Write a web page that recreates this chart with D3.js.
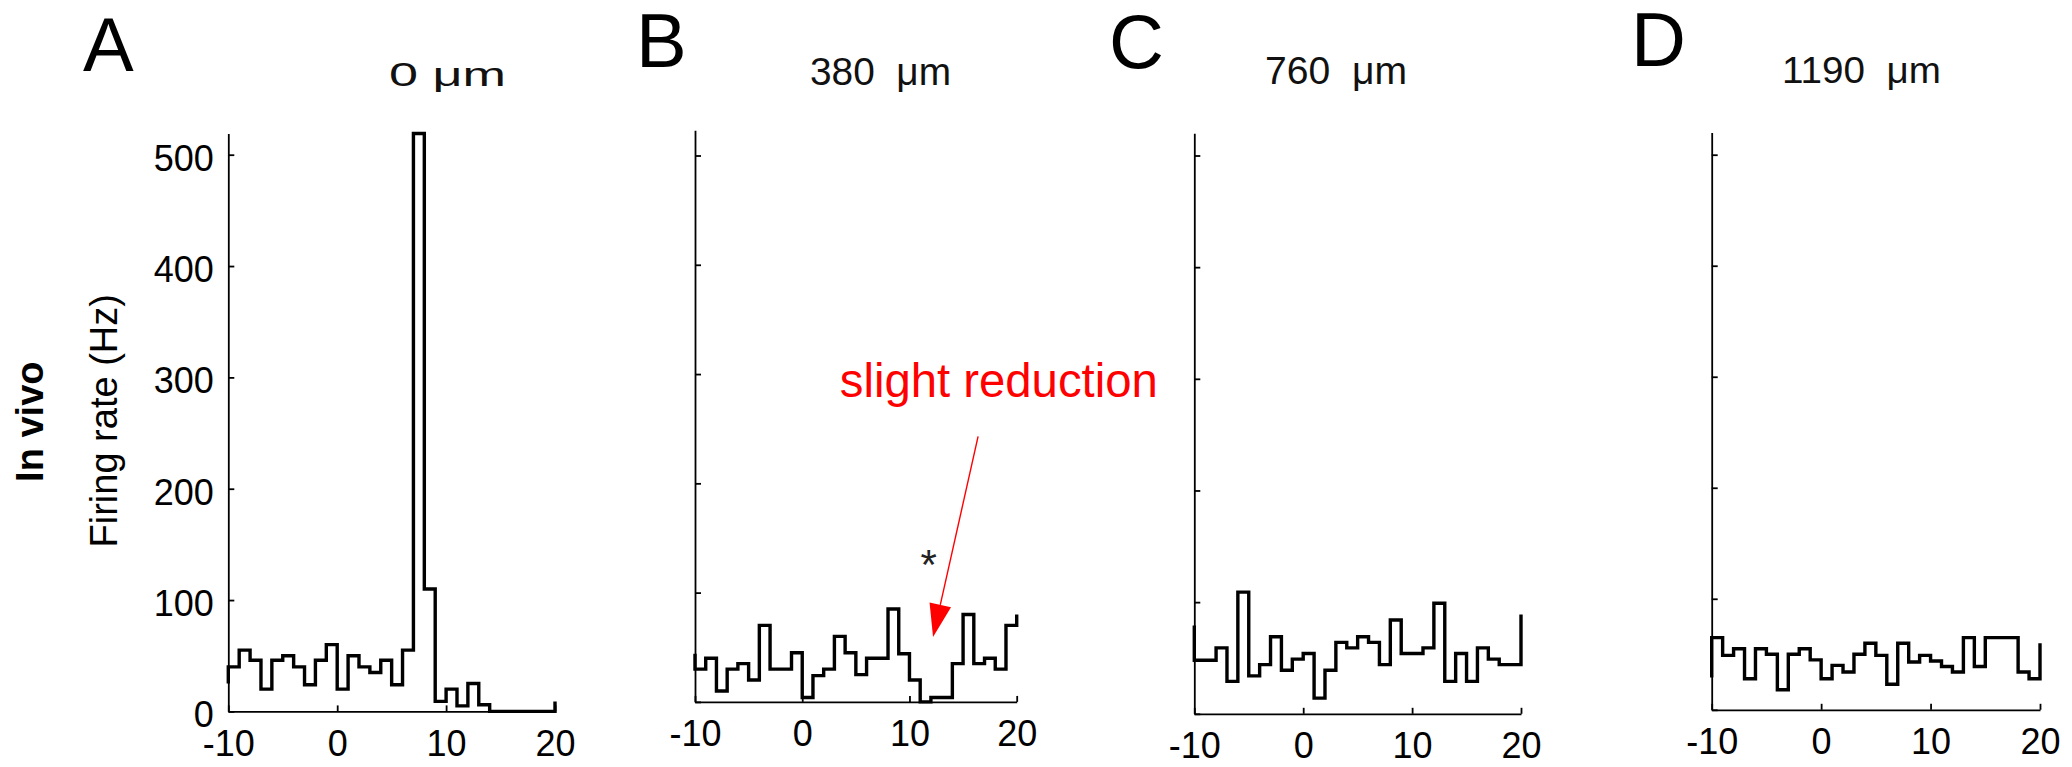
<!DOCTYPE html>
<html>
<head>
<meta charset="utf-8">
<script src="https://cdn.jsdelivr.net/npm/d3@7"></script>
<style>
  html, body { margin: 0; padding: 0; background: #fff; }
  svg { display: block; }
  text { font-family: "Liberation Sans", Arial, Helvetica, sans-serif; white-space: pre; }
</style>
</head>
<body>
<svg id="chart"></svg>
<script>
// --- Data (time in ms, firing rate in Hz) ---
const binStarts = [-10, -9, -8, -7, -6, -5, -4, -3, -2, -1, 0, 1, 2, 3, 4,
                   5, 6, 7, 8, 9, 10, 11, 12, 13, 14, 15, 16, 17, 18, 19];
const xTicks = [-10, 0, 10, 20];
const yTicks = [0, 100, 200, 300, 400, 500];
const panelLetters = ["A", "B", "C", "D"];
const depthLabels = ["0 μm", "380  μm", "760  μm", "1190  μm"];

const rateA = [40, 55, 46, 20, 46, 50, 40, 24, 46, 60, 20, 50, 40, 35, 46,
               24, 55, 519, 110, 9, 20, 5, 25, 6, 0, 0, 0, 0, 0, 0];
const rateB = [30, 40, 10, 30, 35, 20, 70, 30, 30, 45, 4, 24, 30, 60, 45,
               25, 40, 40, 85, 44, 20, 0, 4, 4, 35, 80, 35, 40, 30, 70];
const rateC = [48, 48, 59, 29, 109, 34, 44, 69, 39, 49, 54, 14, 39, 64, 59,
               69, 64, 44, 84, 54, 54, 59, 99, 29, 54, 29, 59, 49, 44, 44];
const rateD = [65, 49, 55, 28, 55, 50, 18, 50, 55, 45, 28, 40, 34, 50, 60,
               49, 23, 60, 43, 49, 44, 39, 34, 65, 39, 65, 65, 65, 34, 28];
// stairs start / end values drawn at the left and right edges
const edgeRates = [[25, 9], [44, 80], [79, 89], [29, 60]];
const rates = [rateA, rateB, rateC, rateD];

const width = 2072;
const height = 767;

const svg = d3.select('#chart')
  .attr('width', width)
  .attr('height', height);

svg.append('rect').attr('width', width).attr('height', height).attr('fill', '#fff');

// --- Panel layout ---
const panels = [
  { left: 228.3, right: 555, bottom: 711.4, top500: 154.7, yMax: 519, showY: true,
    letter: [83, 70.7], title: [389, 86, 117], titleFont: '"DejaVu Sans", Verdana, sans-serif', titleSize: 33 },
  { left: 695, right: 1016.7, bottom: 701.9, top500: 155.5, yMax: 523, showY: false,
    letter: [636, 66.7], title: [810, 85, 141], titleFont: null, titleSize: 38 },
  { left: 1194.3, right: 1521, bottom: 713.8, top500: 155.5, yMax: 520, showY: false,
    letter: [1109, 67.5], title: [1265, 84, 142], titleFont: null, titleSize: 38 },
  { left: 1711.7, right: 2040, bottom: 709.8, top500: 154.7, yMax: 520, showY: false,
    letter: [1631, 66], title: [1782, 82.7, 159], titleFont: null, titleSize: 37 }
];

const scales = [];

panels.forEach((p, i) => {
  const x = d3.scaleLinear().domain([-10, 20]).range([p.left, p.right]);
  const pxPerUnit = (p.bottom - p.top500) / 500;
  const y = d3.scaleLinear().domain([0, p.yMax]).range([p.bottom, p.bottom - p.yMax * pxPerUnit]);
  scales.push({ x, y });

  const g = svg.append('g').attr('class', 'panel');

  // histogram (stairs)
  const pts = [[-10, edgeRates[i][0]]]
    .concat(binStarts.map((t, k) => [t, rates[i][k]]))
    .concat([[20, edgeRates[i][1]]]);
  const line = d3.line()
    .x(d => x(d[0]))
    .y(d => y(d[1]))
    .curve(d3.curveStepAfter);

  // axes (ticks point inward, plain hyphen for negatives)
  const xAxis = d3.axisBottom(x).tickValues(xTicks).tickFormat(d => String(d))
    .tickSizeInner(-6).tickSizeOuter(0).tickPadding(19);
  const yAxis = d3.axisLeft(y).tickValues(yTicks).tickFormat(d => String(d))
    .tickSizeInner(-6).tickSizeOuter(0).tickPadding(14.5);
  if (!p.showY) yAxis.tickFormat('');

  const gx = g.append('g').attr('transform', `translate(0,${p.bottom})`).call(xAxis);
  const gy = g.append('g').attr('transform', `translate(${p.left},0)`).call(yAxis);
  [gx, gy].forEach(a => {
    a.selectAll('path, line').attr('stroke', '#000').attr('stroke-width', 1.8);
    a.selectAll('text').attr('fill', '#000').attr('font-size', 36)
      .attr('font-family', '"Liberation Sans", Arial, sans-serif');
  });
  gy.selectAll('text').attr('dy', '0.43em');

  g.append('path')
    .datum(pts)
    .attr('d', line)
    .attr('fill', 'none')
    .attr('stroke', '#000')
    .attr('stroke-width', 3.4)
    .attr('stroke-linejoin', 'miter');

  // panel letter
  svg.append('text')
    .attr('x', p.letter[0])
    .attr('y', p.letter[1])
    .attr('font-size', 76)
    .attr('fill', '#000')
    .text(panelLetters[i]);

  // depth title
  const t = svg.append('text')
    .attr('x', p.title[0])
    .attr('y', p.title[1])
    .attr('font-size', p.titleSize)
    .attr('fill', '#111')
    .attr('textLength', p.title[2])
    .attr('lengthAdjust', 'spacingAndGlyphs')
    .text(depthLabels[i]);
  if (p.titleFont) t.attr('font-family', p.titleFont);
});

// --- Row / axis labels ---
svg.append('text')
  .attr('transform', 'translate(117.3,420.8) rotate(-90)')
  .attr('text-anchor', 'middle')
  .attr('font-size', 38)
  .attr('fill', '#000')
  .text('Firing rate (Hz)');

svg.append('text')
  .attr('transform', 'translate(42.5,421.7) rotate(-90)')
  .attr('text-anchor', 'middle')
  .attr('font-size', 38)
  .attr('font-weight', 'bold')
  .attr('fill', '#000')
  .text('In vivo');

// --- Annotation in panel B ---
const sb = scales[1];
svg.append('text')
  .attr('x', sb.x(3.5))
  .attr('y', sb.y(279))
  .attr('font-size', 48)
  .attr('fill', '#ff0000')
  .attr('textLength', 318)
  .attr('lengthAdjust', 'spacingAndGlyphs')
  .text('slight reduction');

const arrowFrom = [sb.x(16.4), sb.y(243)];
const arrowTip = [sb.x(12.2), sb.y(59.3)];
const dx = arrowTip[0] - arrowFrom[0], dy = arrowTip[1] - arrowFrom[1];
const len = Math.hypot(dx, dy);
const ux = dx / len, uy = dy / len;
const headLen = 33, headHalf = 11;
const base = [arrowTip[0] - ux * headLen, arrowTip[1] - uy * headLen];

svg.append('line')
  .attr('x1', arrowFrom[0]).attr('y1', arrowFrom[1])
  .attr('x2', base[0]).attr('y2', base[1])
  .attr('stroke', '#ff0000')
  .attr('stroke-width', 1.4);

svg.append('polygon')
  .attr('points', [
    arrowTip,
    [base[0] - uy * headHalf, base[1] + ux * headHalf],
    [base[0] + uy * headHalf, base[1] - ux * headHalf]
  ].map(d => d.join(',')).join(' '))
  .attr('fill', '#ff0000');

svg.append('text')
  .attr('x', sb.x(11.8))
  .attr('y', sb.y(134) + 24)
  .attr('text-anchor', 'middle')
  .attr('font-size', 42)
  .attr('fill', '#222')
  .text('*');
</script>
</body>
</html>
